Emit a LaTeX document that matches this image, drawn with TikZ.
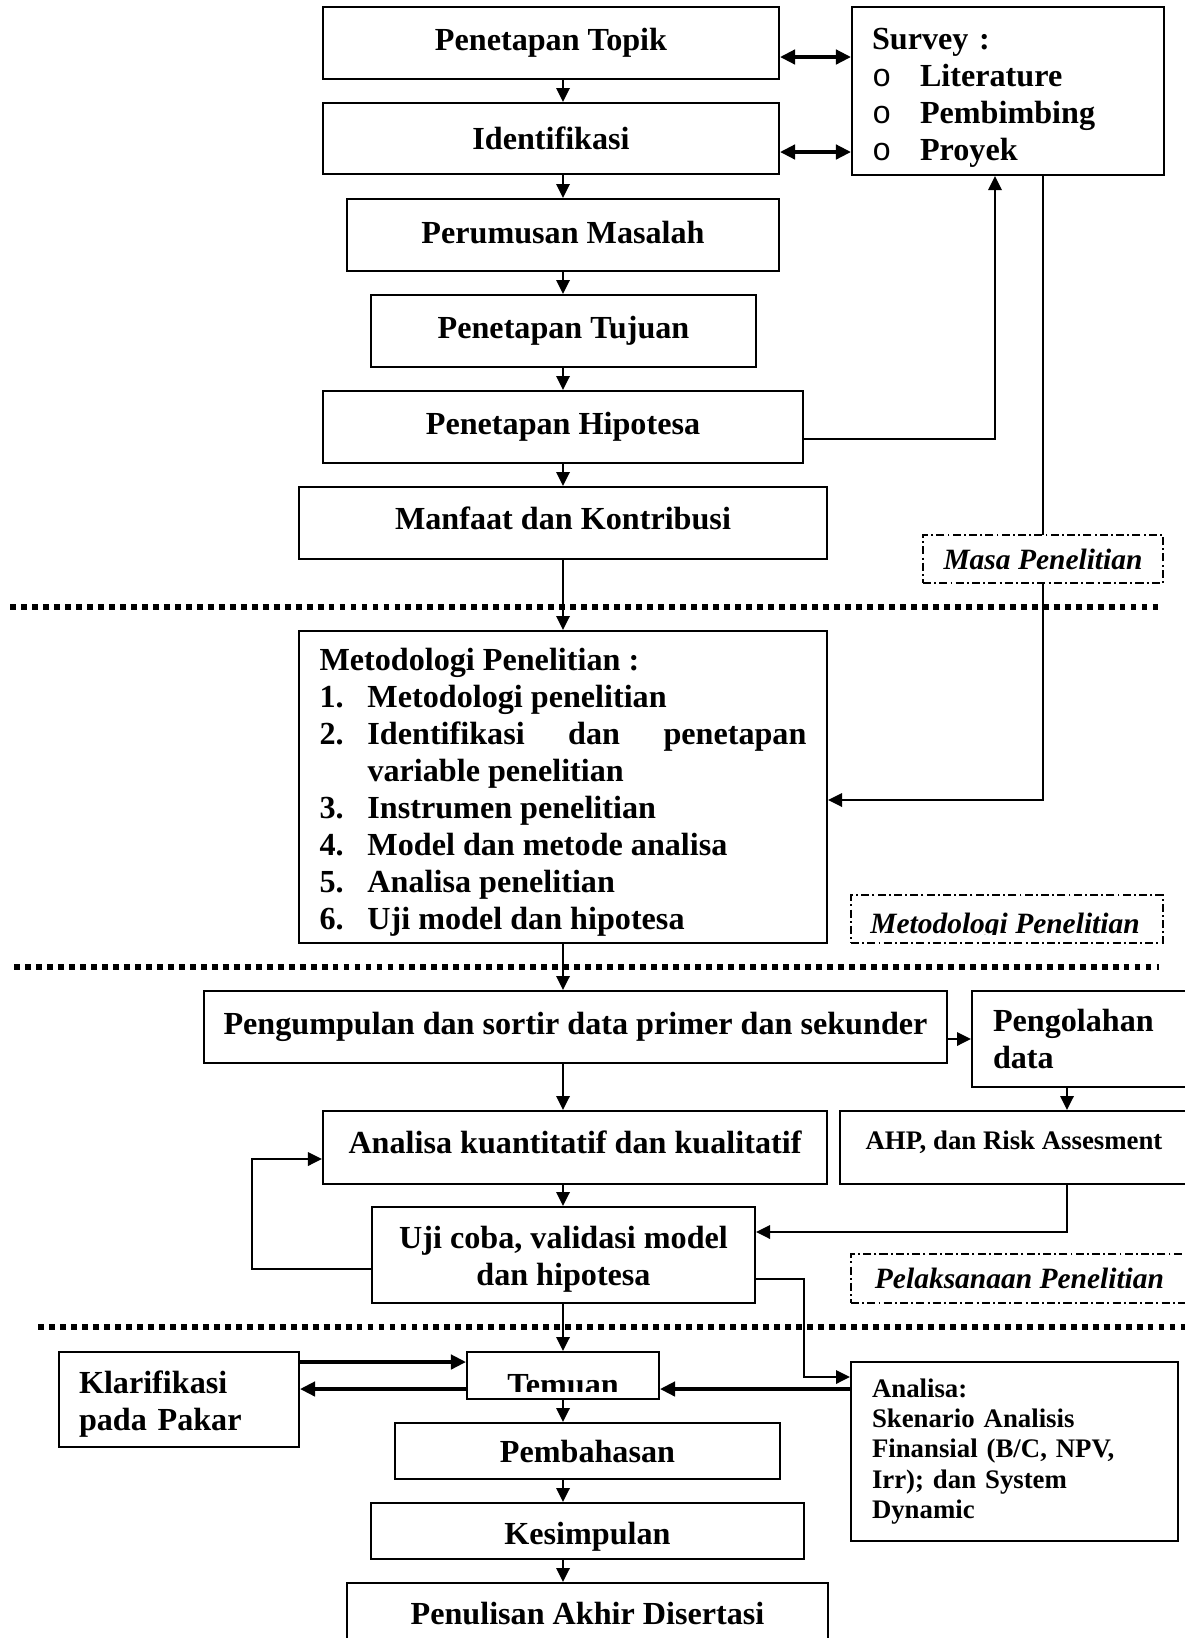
\documentclass[tikz,border=0pt]{standalone}
\usepackage{fontspec}
\setmainfont{Liberation Serif}
\newfontfamily\bulletfont{Liberation Mono}
\usetikzlibrary{arrows.meta}
\newlength\pxu
\setlength\pxu{0.3732pt}
\newcommand{\bul}{\makebox[48\pxu][l]{\bulletfont\mdseries o}}
\newcommand{\lift}[1]{\rule{0pt}{#1}}
\newcommand{\mitem}[2]{\par\hangindent=48\pxu\hangafter=1\noindent\makebox[48\pxu][l]{#1}#2}
\begin{document}
\begin{tikzpicture}[x=0.3732pt,y=-0.3732pt,
  stagebox/.style={draw,line width=0.8pt,inner sep=0pt,align=center,font=\bfseries\fontsize{12}{13.8}\selectfont},
  smallbox/.style={stagebox,font=\bfseries\fontsize{10}{11.3}\selectfont},
  phase/.style={draw,fill=white,line width=0.6pt,inner sep=0pt,dash pattern=on 3pt off 1.2pt on 0.7pt off 1.2pt,font=\bfseries\itshape\fontsize{11}{13}\selectfont},
  flow/.style={line width=0.8pt,-{Triangle[length=5.2pt,width=5pt]}},
  bold/.style={line width=1.2pt,-{Triangle[length=5.6pt,width=5.4pt]}},
  both/.style={line width=1.2pt,{Triangle[length=5.6pt,width=5.4pt]}-{Triangle[length=5.6pt,width=5.4pt]}},
  sep/.style={line width=2.2pt,dash pattern=on 2.2pt off 1.9pt}]
\useasboundingbox (0,0) rectangle (1184,1638);
\node[stagebox,minimum width=456\pxu,minimum height=72\pxu] (topik) at (551,43) {Penetapan Topik};
\node[stagebox,minimum width=456\pxu,minimum height=71\pxu] (ident) at (551,138.5) {Identifikasi};
\node[stagebox,text depth=2.3pt,minimum width=432\pxu,minimum height=72\pxu] (rumus) at (563,235) {Perumusan Masalah};
\node[stagebox,minimum width=385\pxu,minimum height=72\pxu] (tujuan) at (563.5,331) {Penetapan Tujuan};
\node[stagebox,minimum width=480\pxu,minimum height=72\pxu] (hipo) at (563,427) {Penetapan Hipotesa};
\node[stagebox,text depth=3.9pt,minimum width=528\pxu,minimum height=72\pxu] (manfaat) at (563,523) {Manfaat dan Kontribusi};
\node[stagebox,align=left,text width=272\pxu,minimum width=312\pxu,minimum height=168\pxu] (survey) at (1008,91)
  {\lift{13pt}Survey :\\ \bul Literature\\ \bul Pembimbing\\ \bul Proyek};
\node[stagebox,align=justify,text width=487\pxu,minimum width=528\pxu,minimum height=312\pxu] (metode) at (563,787)
  {\hyphenpenalty=10000\exhyphenpenalty=10000\noindent\lift{12.1pt}Metodologi Penelitian :
   \mitem{1.}{Metodologi penelitian}
   \mitem{2.}{Identifikasi dan penetapan variable penelitian}
   \mitem{3.}{Instrumen penelitian}
   \mitem{4.}{Model dan metode analisa}
   \mitem{5.}{Analisa penelitian}
   \mitem{6.}{Uji model dan hipotesa}};
\node[stagebox,minimum width=743\pxu,minimum height=72\pxu] (kumpul) at (575.5,1027) {Pengumpulan dan sortir data primer dan sekunder};
\node[stagebox,align=left,text width=176\pxu,minimum width=218\pxu,minimum height=96\pxu] (olah) at (1081,1039) {Pengolahan\\data};
\node[stagebox,text depth=3.9pt,minimum width=504\pxu,minimum height=73\pxu] (kuant) at (575,1147.5) {Analisa kuantitatif dan kualitatif};
\node[smallbox,text depth=5.5pt,minimum width=348\pxu,minimum height=73\pxu] (ahp) at (1014,1147.5) {AHP, dan Risk Assesment};
\node[stagebox,minimum width=383\pxu,minimum height=96\pxu] (uji) at (563.5,1255) {\lift{11.3pt}Uji coba, validasi model\\dan hipotesa};
\node[stagebox,minimum width=192\pxu,minimum height=47\pxu] (temuan) at (563,1375.5) {};
\node[stagebox,align=left,text width=200\pxu,minimum width=240\pxu,minimum height=95\pxu] (klar) at (179,1399.5) {\lift{12.1pt}Klarifikasi\\pada Pakar};
\node[smallbox,align=left,text width=285\pxu,minimum width=327\pxu,minimum height=179\pxu] (anal) at (1014.5,1451.5)
  {Analisa:\\Skenario Analisis\\Finansial (B/C, NPV,\\Irr); dan System\\Dynamic};
\node[stagebox,minimum width=385\pxu,minimum height=56\pxu] (bahas) at (587.5,1451) {Pembahasan};
\node[stagebox,text height=13pt,text depth=2.6pt,minimum width=433\pxu,minimum height=56\pxu] (simpul) at (587.5,1531) {Kesimpulan};
\node[stagebox,minimum width=481\pxu,minimum height=62\pxu] (tulis) at (587.5,1614) {Penulisan Akhir Disertasi};
\begin{scope}
\clip (467,1352) rectangle (659,1391);
\node[stagebox,draw=none,anchor=base] (temuantxt) at (563,1395) {Temuan};
\end{scope}
\draw[sep] (10,607) -- (1158,607);
\draw[sep] (14,967) -- (1159,967);
\draw[sep] (38,1327) -- (1190,1327);
\coordinate (axis) at (563,0);
\draw[flow] (topik.south -| axis) -- (ident.north -| axis);
\draw[flow] (ident.south -| axis) -- (rumus.north -| axis);
\draw[flow] (rumus.south -| axis) -- (tujuan.north -| axis);
\draw[flow] (tujuan.south -| axis) -- (hipo.north -| axis);
\draw[flow] (hipo.south -| axis) -- (manfaat.north -| axis);
\draw[flow] (manfaat.south -| axis) -- (metode.north -| axis);
\draw[flow] (metode.south -| axis) -- (kumpul.north -| axis);
\draw[flow] (kumpul.south -| axis) -- (kuant.north -| axis);
\draw[flow] (kuant.south -| axis) -- (uji.north -| axis);
\draw[flow] (uji.south -| axis) -- (temuan.north -| axis);
\draw[flow] (temuan.south -| axis) -- (bahas.north -| axis);
\draw[flow] (bahas.south -| axis) -- (simpul.north -| axis);
\draw[flow] (simpul.south -| axis) -- (tulis.north -| axis);
\draw[both] ([yshift=-14\pxu]topik.east) coordinate (t1) -- (t1 -| survey.west);
\draw[both] ([yshift=-13.5\pxu]ident.east) coordinate (t2) -- (t2 -| survey.west);
\coordinate (upx) at (995,0);
\coordinate (downx) at (1043,0);
\draw[flow] ([yshift=-12\pxu]hipo.east) -| (survey.south -| upx);
\draw[flow] (survey.south -| downx) |- ([yshift=-13\pxu]metode.east);
\draw[flow] ([yshift=-12\pxu]kumpul.east) coordinate (k1) -- (k1 -| olah.west);
\coordinate (ahpx) at (1067,0);
\draw[flow] (olah.south -| ahpx) -- (ahp.north -| ahpx);
\draw[flow] (ahp.south -| ahpx) |- ([yshift=23\pxu]uji.east);
\coordinate (loopx) at (252,0);
\coordinate (k2) at ([yshift=-11.5\pxu]kuant.west);
\draw[flow] ([yshift=-14\pxu]uji.west) -| (k2 -| loopx) -- (k2);
\coordinate (outx) at (804,0);
\coordinate (a1) at ([yshift=74.5\pxu]anal.west);
\draw[flow] ([yshift=-24\pxu]uji.east) -| (a1 -| outx) -- (a1);
\draw[bold] ([yshift=37.5\pxu]klar.east) coordinate (c1) -- (c1 -| temuan.west);
\draw[bold] ([yshift=-13.5\pxu]temuan.west) coordinate (c2) -- (c2 -| klar.east);
\draw[bold] (c2 -| anal.west) -- (c2 -| temuan.east);
\node[phase,minimum width=240\pxu,minimum height=48\pxu] (masa) at (1043,559) {Masa Penelitian};
\node[phase,minimum width=312\pxu,minimum height=48\pxu] (metlbl) at (1007,919) {};
\begin{scope}
\clip (852,896) rectangle (1162,934);
\node[phase,draw=none,fill=none,anchor=base] (metlbltxt) at (1005,933) {Metodologi Penelitian};
\end{scope}
\node[phase,minimum width=337\pxu,minimum height=49\pxu] (laksana) at (1019.5,1278.5) {Pelaksanaan Penelitian};
\end{tikzpicture}
\end{document}
